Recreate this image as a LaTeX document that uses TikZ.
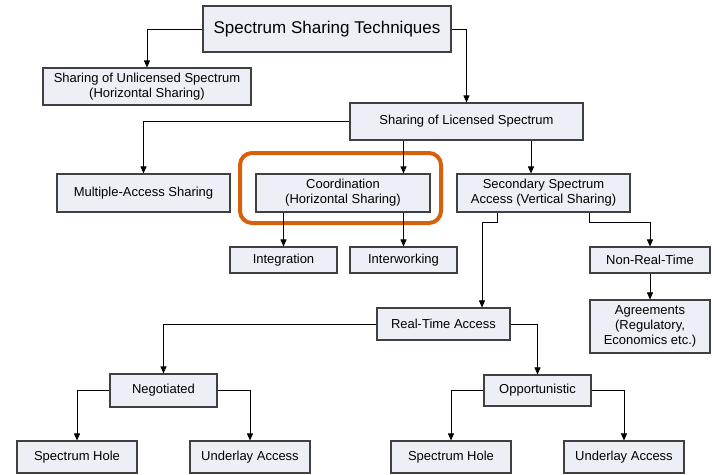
\documentclass[tikz,border=0pt]{standalone}
\usepackage{fontspec}
\setmainfont{Liberation Sans}
\usetikzlibrary{arrows.meta,calc}
\definecolor{boxfill}{RGB}{236,239,245}
\definecolor{boxline}{RGB}{64,64,64}
\definecolor{hilite}{RGB}{216,95,12}
\begin{document}
\begin{tikzpicture}[x=1pt,y=-1pt,
  box/.style={draw=boxline,line width=1.1pt,fill=boxfill,inner sep=0pt,align=center,
    font=\fontsize{13}{15}\selectfont},
  bigbox/.style={box,font=\fontsize{17}{20}\selectfont},
  arr/.style={draw=black,line width=0.9pt,-{Triangle[length=7pt,width=6pt]}}]
\useasboundingbox (0,0) rectangle (715,474);

% tree of boxes: centre, width, height
\node[bigbox,minimum width=248,minimum height=46] (top) at (327,29) {Spectrum Sharing Techniques};
\node[box,minimum width=208,minimum height=37] (unl) at (147,86.5) {Sharing of Unlicensed Spectrum\\(Horizontal Sharing)};
\node[box,minimum width=233,minimum height=37] (lic) at (466.5,121.5) {Sharing of Licensed Spectrum};
\node[box,minimum width=173,minimum height=38] (mas) at (143.5,193) {Multiple-Access Sharing};
\node[box,minimum width=174,minimum height=38] (coord) at (343,193) {Coordination\\(Horizontal Sharing)};
\node[box,minimum width=173,minimum height=38] (sec) at (543.5,193) {Secondary Spectrum\\Access (Vertical Sharing)};
\node[box,minimum width=107,minimum height=26] (integ) at (283.5,260) {Integration};
\node[box,minimum width=107,minimum height=26] (inter) at (403.5,260) {Interworking};
\node[box,minimum width=120,minimum height=26] (nrt) at (650,260) {Non-Real-Time};
\node[box,minimum width=120,minimum height=53] (agr) at (650,326.5) {Agreements\\(Regulatory,\\Economics etc.)};
\node[box,minimum width=133,minimum height=32] (rt) at (443.5,324) {Real-Time Access};
\node[box,minimum width=107,minimum height=33] (neg) at (163.5,390.5) {Negotiated};
\node[box,minimum width=107,minimum height=31] (opp) at (537.5,390.5) {Opportunistic};
\node[box,minimum width=120,minimum height=32] (sh1) at (77,457) {Spectrum Hole};
\node[box,minimum width=120,minimum height=32] (ua1) at (250,457) {Underlay Access};
\node[box,minimum width=120,minimum height=32] (sh2) at (451,457) {Spectrum Hole};
\node[box,minimum width=120,minimum height=32] (ua2) at (624,457) {Underlay Access};

% highlight around the coordination branch
\draw[hilite,line width=4pt,rounded corners=12pt] (240,153) rectangle (441,223);

% connectors
\draw[arr] (top.west) -| (unl.north);
\draw[arr] (top.east) -| (lic.north);
\draw[arr] (lic.west) -| (mas.north);
\draw[arr] (lic.south -| inter.north) -- (coord.north -| inter.north);
\draw[arr] ([xshift=-12.5pt]sec.north |- lic.south) -- ([xshift=-12.5pt]sec.north);
\draw[arr] (coord.south -| integ.north) -- (integ.north);
\draw[arr] (coord.south -| inter.north) -- (inter.north);

\coordinate (sbl) at ([xshift=-46.5pt]sec.south);
\coordinate (sbr) at (sec.south -| nrt.west);
\draw[arr] (sbl) -- ++(0,10) -| ([xshift=38.5pt]rt.north);
\draw[arr] (sbr) -- ++(0,10) -| (nrt.north);
\draw[arr] (nrt.south) -- (agr.north);

\draw[arr] (rt.west) -| (neg.north);
\draw[arr] (rt.east) -| (opp.north);
\draw[arr] (neg.west) -| (sh1.north);
\draw[arr] (neg.east) -| (ua1.north);
\draw[arr] (opp.west) -| (sh2.north);
\draw[arr] (opp.east) -| (ua2.north);
\end{tikzpicture}
\end{document}
